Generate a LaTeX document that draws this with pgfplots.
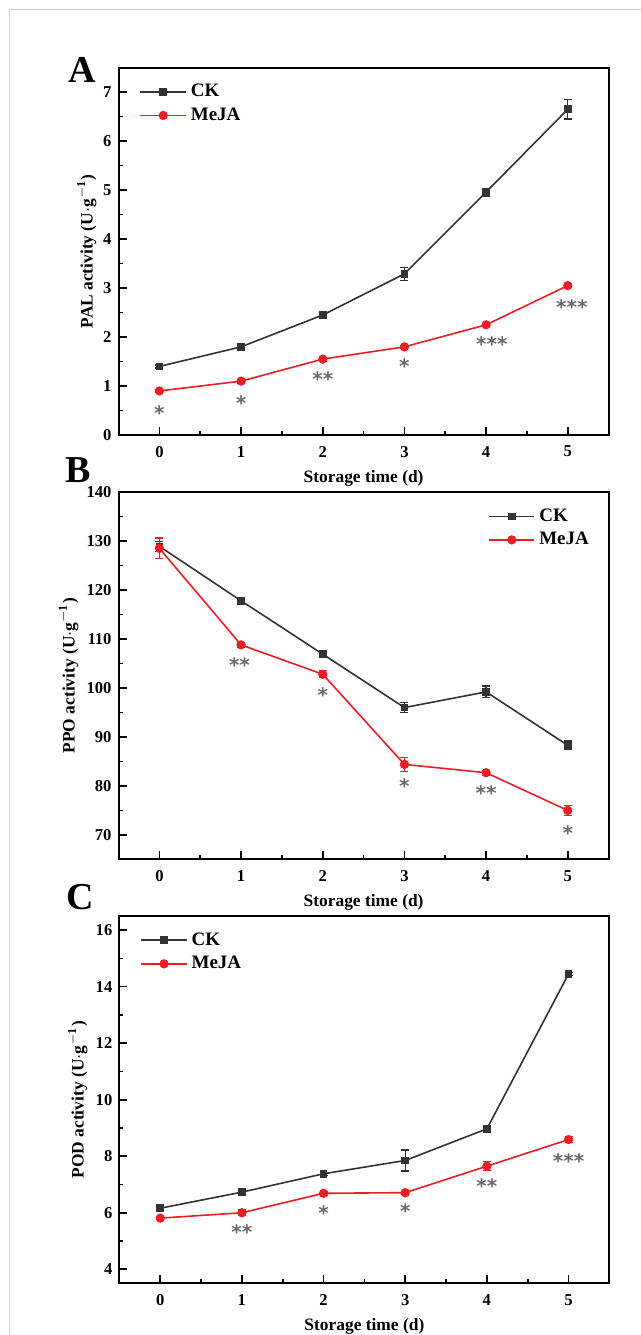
\documentclass[border=0pt]{standalone}
\usepackage{fontspec}
\setmainfont{Liberation Serif}
\newfontfamily\starfont{DejaVu Sans}
\usepackage{pgfplots}
\pgfplotsset{compat=1.18}

\definecolor{ckgray}{HTML}{333333}
\definecolor{mejared}{HTML}{EE1C25}
\definecolor{stargray}{HTML}{6A6A6A}
\definecolor{framegray}{HTML}{D0D0D0}

\pgfplotsset{
  panel/.style={
    scale only axis, width=245pt, height=183.7pt,
    xmin=-0.5, xmax=5.5, xtick={0,...,5}, minor x tick num=1,
    tick align=inside, xtick pos=left, ytick pos=left,
    major tick length=4pt, minor tick length=2pt,
    axis line style={line width=1pt},
    every tick/.style={line width=0.8pt, black},
    tick label style={font=\bfseries\fontsize{8.3}{9}\selectfont},
    xticklabel style={yshift=-2pt},
    /pgf/number format/assume math mode=true,
    label style={font=\bfseries\fontsize{8.7}{10}\selectfont},
    xlabel={Storage time (d)},
    xlabel style={at={(axis description cs:0.5,-0.117)}, anchor=center},
    legend style={draw=none, fill=none, font=\bfseries\fontsize{9.5}{11}\selectfont, row sep=0pt},
    legend cell align=left,
    legend image code/.code={\draw[line width=0.8pt, mark repeat=2, mark phase=2] plot coordinates {(0cm,0cm) (0.4cm,0cm) (0.8cm,0cm)};},
  },
  ck/.style={color=ckgray, line width=0.8pt, mark=square*, mark size=1.5pt,
    error bars/.cd, y dir=both, y explicit, error mark=-,
    error bar style={line width=0.6pt}, error mark options={rotate=90, mark size=2pt, line width=0.6pt}},
  meja/.style={color=mejared, line width=0.8pt, mark=*, mark size=1.9pt,
    error bars/.cd, y dir=both, y explicit, error mark=-,
    error bar style={line width=0.6pt}, error mark options={rotate=90, mark size=2pt, line width=0.6pt}},
  stars/.style={only marks, mark=none, nodes near coords, point meta=explicit symbolic,
    every node near coord/.style={anchor=center, inner sep=0pt, yshift=-2.5pt,
      font=\starfont\bfseries\fontsize{10}{10}\selectfont, text=stargray}},
}

\begin{document}
\begin{tikzpicture}
\path[use as bounding box] (0,0) rectangle (320.5pt,-667.5pt);
\draw[framegray, line width=0.5pt] (4.5pt,-667.5pt) -- (4.5pt,-4.7pt) -- (320.5pt,-4.7pt);

% A
\begin{axis}[panel, at={(59.3pt,-217.5pt)}, anchor=south west,
  ymin=0, ymax=7.5, ytick={0,...,7}, minor y tick num=1,
  ylabel={PAL activity (U$\cdot$g$^{\mathbf{-1}}$)},
  ylabel style={at={(axis description cs:-0.065,0.5)}, anchor=center},
  legend style={at={(axis description cs:0.03,0.978)}, anchor=north west}]
\addplot[ck] coordinates {(0,1.40)+-(0,0.03) (1,1.80)+-(0,0.03) (2,2.45)+-(0,0.04) (3,3.29)+-(0,0.13) (4,4.96)+-(0,0.08) (5,6.65)+-(0,0.2)};
\addplot[meja] coordinates {(0,0.90)+-(0,0.03) (1,1.10)+-(0,0.04) (2,1.55)+-(0,0.04) (3,1.80)+-(0,0.03) (4,2.25)+-(0,0.03) (5,3.05)+-(0,0.04)};
\legend{CK, MeJA}
\addplot[stars] coordinates {(0,0.56)[*] (1,0.75)[*] (2,1.24)[**] (3,1.51)[*] (4.07,1.95)[***] (5.05,2.72)[***]};
\end{axis}
\node[font=\bfseries\fontsize{19}{19}\selectfont] at (40.9pt,-35pt) {A};

% B
\begin{axis}[panel, at={(59.3pt,-429.7pt)}, anchor=south west,
  ymin=65, ymax=140, ytick={70,80,...,140}, minor y tick num=1,
  ylabel={PPO activity (U$\cdot$g$^{\mathbf{-1}}$)},
  ylabel style={at={(axis description cs:-0.102,0.5)}, anchor=center},
  legend style={at={(axis description cs:0.981,0.978)}, anchor=north east}]
\addplot[ck] coordinates {(0,128.9)+-(0,1) (1,117.8)+-(0,0.5) (2,106.9)+-(0,0.4) (3,96.0)+-(0,1.0) (4,99.2)+-(0,1.2) (5,88.3)+-(0,0.9)};
\addplot[meja] coordinates {(0,128.5)+-(0,2.1) (1,108.8)+-(0,0.5) (2,102.8)+-(0,0.7) (3,84.4)+-(0,1.4) (4,82.7)+-(0,0.5) (5,75.0)+-(0,1.0)};
\legend{CK, MeJA}
\addplot[stars] coordinates {(0.98,105.6)[**] (2,99.5)[*] (3,81.0)[*] (4,79.6)[**] (5,71.4)[*]};
\end{axis}
\node[font=\bfseries\fontsize{19}{19}\selectfont] at (38.9pt,-235pt) {B};

% C
\begin{axis}[panel, at={(59.7pt,-641.7pt)}, anchor=south west,
  ymin=3.5, ymax=16.5, ytick={4,6,...,16}, minor y tick num=1,
  ylabel={POD activity (U$\cdot$g$^{\mathbf{-1}}$)},
  ylabel style={at={(axis description cs:-0.085,0.5)}, anchor=center},
  legend style={at={(axis description cs:0.03,0.978)}, anchor=north west}]
\addplot[ck] coordinates {(0,6.16)+-(0,0.05) (1,6.73)+-(0,0.05) (2,7.38)+-(0,0.05) (3,7.85)+-(0,0.37) (4,8.97)+-(0,0.05) (5,14.45)+-(0,0.06)};
\addplot[meja] coordinates {(0,5.81)+-(0,0.06) (1,6.0)+-(0,0.1) (2,6.69)+-(0,0.07) (3,6.71)+-(0,0.05) (4,7.65)+-(0,0.15) (5,8.59)+-(0,0.1)};
\legend{CK, MeJA}
\addplot[stars] coordinates {(1,5.49)[**] (2,6.16)[*] (3,6.22)[*] (4,7.11)[**] (5,8.02)[***]};
\end{axis}
\node[font=\bfseries\fontsize{19}{19}\selectfont] at (39.9pt,-448.3pt) {C};
\end{tikzpicture}
\end{document}
